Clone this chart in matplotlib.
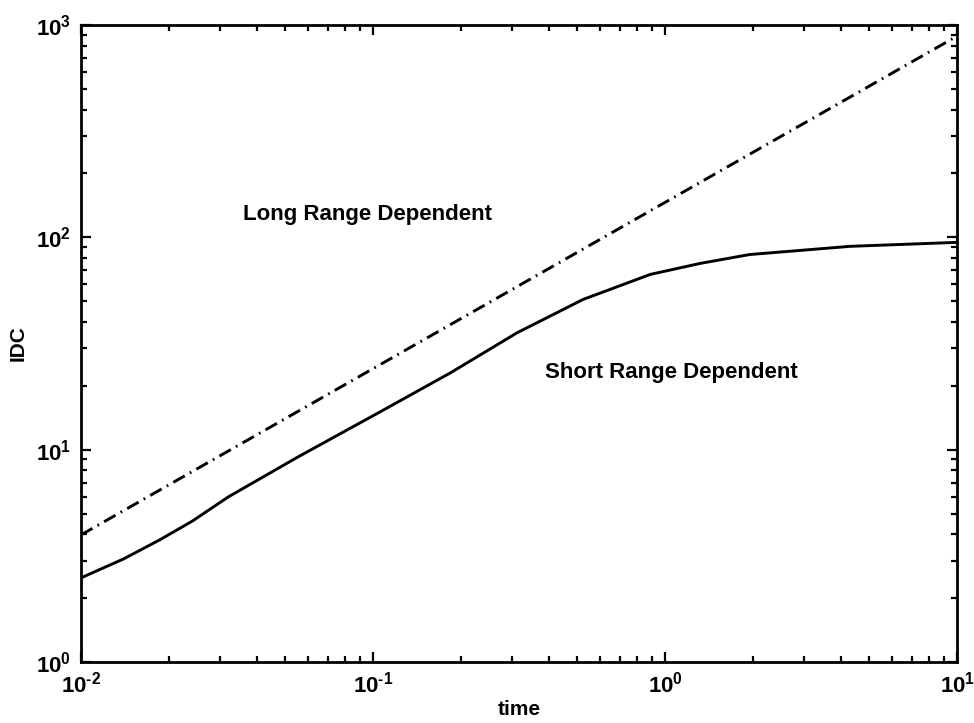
import math
import matplotlib
matplotlib.use("Agg")
import matplotlib.pyplot as plt
from matplotlib.ticker import LogLocator, FuncFormatter, NullFormatter

plt.rcParams['font.family'] = ['Liberation Sans', 'DejaVu Sans']
plt.rcParams['font.weight'] = 'bold'
plt.rcParams['axes.unicode_minus'] = False
plt.rcParams['mathtext.fontset'] = 'custom'
plt.rcParams['mathtext.rm'] = 'Liberation Sans:bold'
plt.rcParams['mathtext.it'] = 'Liberation Sans:bold'
plt.rcParams['mathtext.bf'] = 'Liberation Sans:bold'
plt.rcParams['mathtext.default'] = 'bf'

# Data
short_time = [0.01, 0.014, 0.0186, 0.024, 0.032, 0.055, 0.106, 0.184, 0.311, 0.524, 0.89, 1.32, 1.95, 4.3, 10]
short_idc = [2.49, 3.06, 3.76, 4.6, 6.0, 9.2, 15.1, 23.0, 35.5, 51, 66.9, 75.4, 83, 90.7, 94.7]
long_time = [0.01, 0.106, 10]
long_idc = [3.97, 25.2, 887]

label_long = "Long Range Dependent"
label_short = "Short Range Dependent"
x_label = "time"
y_label = "IDC"

HYPHEN = "\u2010"


def pow10_label(v, pos):
    e = int(round(math.log10(v)))
    if e < 0:
        return "$10^{" + HYPHEN + str(-e) + "}$"
    return "$10^{" + str(e) + "}$"


fig = plt.figure(figsize=(9.74, 7.23), dpi=100)
ax = fig.add_axes([0.0832, 0.0844, 0.8995, 0.881])

ax.plot(short_time, short_idc, color='black', lw=2.1, solid_capstyle='round',
        solid_joinstyle='round')
ax.plot(long_time, long_idc, color='black', lw=2.1, dashes=[4.5, 2.0, 0.6, 2.0])

ax.set_xscale('log')
ax.set_yscale('log')
ax.set_xlim(1e-2, 1e1)
ax.set_ylim(1e0, 1e3)

for axis in (ax.xaxis, ax.yaxis):
    axis.set_major_locator(LogLocator(base=10, numticks=10))
    axis.set_minor_locator(LogLocator(base=10, subs=range(2, 10), numticks=20))
    axis.set_major_formatter(FuncFormatter(pow10_label))
    axis.set_minor_formatter(NullFormatter())

ax.tick_params(which='both', direction='in', top=True, right=True, width=1.6, color='black')
ax.tick_params(which='major', length=7, labelsize=16, pad=7)
ax.tick_params(which='minor', length=4)
for s in ax.spines.values():
    s.set_linewidth(2.0)

ax.set_xlabel(x_label, fontsize=15, fontweight='bold', labelpad=2)
ax.set_ylabel(y_label, fontsize=15, fontweight='bold', labelpad=6)

ax.text(0.0359, 128, label_long, fontsize=16, fontweight='bold', ha='left', va='center')
ax.text(0.388, 23.1, label_short, fontsize=16, fontweight='bold', ha='left', va='center')

fig.savefig('out.png', dpi=100)
